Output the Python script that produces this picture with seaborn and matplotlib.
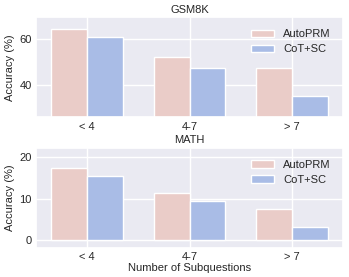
import pandas as pd
import seaborn as sns
import matplotlib.pyplot as plt

sns.set_theme(style='darkgrid')
plt.rcParams['font.family'] = ['Liberation Sans', 'DejaVu Sans']

categories = ['< 4', '4-7', '> 7']
methods = ['AutoPRM', 'CoT+SC']
gsm8k_autoprm = [64.5, 52.2, 47.5]
gsm8k_cotsc = [61.2, 47.3, 35.1]
math_autoprm = [17.3, 11.3, 7.4]
math_cotsc = [15.3, 9.35, 3.3]

colors = ['#EACCC8', '#A9BCE6']
fs = 8


def make_df(a, b):
    rows = []
    for c, v in zip(categories, a):
        rows.append((c, methods[0], v))
    for c, v in zip(categories, b):
        rows.append((c, methods[1], v))
    return pd.DataFrame(rows, columns=['group', 'method', 'acc'])


fig, axes = plt.subplots(2, 1, figsize=(3.49, 2.77), dpi=100)
panels = [('GSM8K', gsm8k_autoprm, gsm8k_cotsc, (25.6, 69.8)),
          ('MATH', math_autoprm, math_cotsc, (-1.8, 22.2))]

for ax, (title, a, b, ylim) in zip(axes, panels):
    df = make_df(a, b)
    sns.barplot(data=df, x='group', y='acc', hue='method', palette=colors,
                saturation=1, width=0.7, edgecolor='white', linewidth=1, ax=ax)
    ax.set_ylim(*ylim)
    ax.set_title(title, fontsize=fs, pad=3)
    ax.set_ylabel('Accuracy (%)', fontsize=fs, labelpad=3)
    ax.set_xlabel('')
    ax.tick_params(labelsize=fs, length=0, pad=3)
    ax.xaxis.grid(True)
    ax.legend(frameon=False, fontsize=fs, loc='upper right',
              handlelength=2.1, borderaxespad=0.7, labelspacing=0.45)

axes[1].set_xlabel('Number of Subquestions', fontsize=fs, labelpad=1)

fig.subplots_adjust(left=0.103, right=0.983, top=0.938, bottom=0.105, hspace=0.3)
fig.savefig('out.png', dpi=100)
